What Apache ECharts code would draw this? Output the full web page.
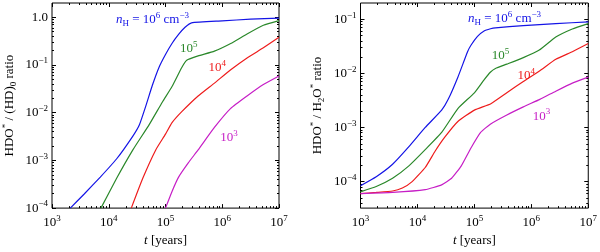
<!DOCTYPE html>
<html><head><meta charset="utf-8">
<script src="https://cdn.jsdelivr.net/npm/echarts@6/dist/echarts.min.js"></script>
<style>html,body{margin:0;padding:0;background:#fff}#c{width:600px;height:252px}</style>
</head><body><div id="c"></div>
<script>
// ---------- data (t in years, ratio values) ----------
const xTickValues = [1e3, 1e4, 1e5, 1e6, 1e7];
const leftYTickValues = [1e-4, 1e-3, 1e-2, 1e-1, 1];
const rightYTickValues = [1e-4, 1e-3, 1e-2, 1e-1];
const densityLabels = ['6', '5', '4', '3'];

// Left panel: HDO* / (HD)_0
const left_n1e6 = [[2100,1.0e-4],[3660,1.95e-4],[7100,4.47e-4],[13700,1.07e-3],[26600,3.24e-3],[34700,5.6e-3],[45200,0.0141],[58900,0.038],[76700,0.089],[1.0e5,0.166],[1.3e5,0.282],[1.7e5,0.437],[2.21e5,0.617],[2.88e5,0.767],[1e6,0.841],[3.16e6,0.914],[1e7,0.966]];
const left_n1e5 = [[7280,1e-4],[13700,4.17e-4],[26600,1.66e-3],[51600,5.62e-3],[87700,0.0166],[1.303e5,0.0355],[1.936e5,0.089],[2.366e5,0.126],[3.758e5,0.155],[7.278e5,0.195],[1.41e6,0.282],[2.735e6,0.447],[5.3e6,0.681],[1e7,0.85]];
const left_n1e4 = [[24950,1e-4],[39600,4.17e-4],[67300,1.66e-3],[1e5,3.55e-3],[1.303e5,6.17e-3],[1.936e5,0.0105],[3.758e5,0.0224],[7.278e5,0.0417],[1.41e6,0.0794],[2.735e6,0.141],[5.3e6,0.229],[1e7,0.38]];
const left_n1e3 = [[1e5,1e-4],[1.303e5,2.24e-4],[1.7e5,4.47e-4],[2.52e5,8.9e-4],[3.758e5,1.66e-3],[7.278e5,4.9e-3],[1.41e6,0.0123],[2.735e6,0.0224],[5.3e6,0.0389],[1e7,0.0589]];

// Right panel: HDO* / H2O*
const right_n1e6 = [[1000,8.4e-5],[1890,1.23e-4],[3660,2.09e-4],[7080,4.42e-4],[13700,1.0e-3],[26600,2.09e-3],[34700,3.31e-3],[51300,8.5e-3],[75900,0.0251],[87100,0.0331],[1.135e5,0.0483],[1.48e5,0.0607],[1.92e5,0.0667],[2.344e5,0.0695],[7.24e5,0.0759],[2.69e6,0.0832],[1e7,0.0891]];
const right_n1e5 = [[1000,6.46e-5],[1890,8.1e-5],[3660,1.15e-4],[7080,1.95e-4],[13700,3.89e-4],[26600,8.1e-4],[51300,2.24e-3],[1e5,4.37e-3],[1.48e5,7.6e-3],[1.905e5,0.0105],[2.344e5,0.0123],[3.715e5,0.0148],[7.24e5,0.0195],[1.38e6,0.0269],[2.69e6,0.0468],[5.25e6,0.0661],[1e7,0.0832]];
const right_n1e4 = [[1000,6.0e-5],[1890,6.3e-5],[3660,6.7e-5],[5430,7.6e-5],[8070,1.0e-4],[13700,1.82e-4],[20400,3.63e-4],[30200,6.6e-4],[51300,1.29e-3],[1e5,2.09e-3],[1.95e5,2.75e-3],[3.715e5,4.37e-3],[7.24e5,7.1e-3],[1.41e6,0.0112],[2.69e6,0.0182],[5.25e6,0.0251],[1e7,0.0355]];
const right_n1e3 = [[1000,6.0e-5],[3660,6.3e-5],[13700,7.1e-5],[26600,8.7e-5],[39800,1.15e-4],[58900,1.95e-4],[87100,4.17e-4],[1.288e5,8.1e-4],[1.905e5,1.15e-3],[3.715e5,1.7e-3],[7.24e5,2.4e-3],[1.41e6,3.31e-3],[2.69e6,4.68e-3],[5.25e6,6.6e-3],[1e7,8.5e-3]];

// ---------- styling / layout ----------
const FONT = 'Liberation Serif';
const MINUS = '\u2212';
const COLORS = ['#1414e6', '#2a882a', '#ee1c1c', '#c61ec6'];
const L = Math.log10;

// annotation anchors (t, value) for each density label
const leftAnno = [[10**4.77, 10**-0.05], [10**5.41, 10**-0.66], [10**5.91, 10**-1.06], [10**6.12, 10**-2.52]];
const rightAnno = [[10**5.53, 10**-0.98], [10**5.46, 10**-1.67], [10**5.91, 10**-2.05], [10**6.18, 10**-2.79]];

function rich(color) {
  return {
    r: {fontFamily: FONT, fontSize: 13, color, lineHeight: 17},
    i: {fontFamily: FONT, fontSize: 13, fontStyle: 'italic', color, lineHeight: 17},
    sup: {fontFamily: FONT, fontSize: 9, color, lineHeight: 9, verticalAlign: 'top'},
    sub: {fontFamily: FONT, fontSize: 9, color, lineHeight: 9, verticalAlign: 'bottom'}
  };
}
function powLabel(lv, oneAsDecimal) {
  const n = Math.round(lv);
  if (Math.abs(lv - n) > 1e-6) return '';
  if (n === 0 && oneAsDecimal) return '{r|1.0}';
  return '{r|10}{sup|' + String(n).replace('-', MINUS) + '}';
}
function minorTicks(lo, hi) {
  const out = [];
  for (let n = Math.floor(lo); n < hi; n++)
    for (let k = 2; k <= 9; k++) {
      const v = n + L(k);
      if (v > lo + 1e-6 && v < hi - 1e-6) out.push(v);
    }
  return out;
}
const tickLine = {color: '#000', width: 1};
function axisSet(dim, gridIndex, min, max, majorVals, fmt, name, nameGap) {
  const pos = dim === 'x' ? ['bottom', 'top'] : ['left', 'right'];
  const majors = majorVals.map(L);
  const minors = minorTicks(min, max);
  const base = {type: 'value', gridIndex, min, max, splitLine: {show: false}, axisLine: {show: false, onZero: false}};
  const main = Object.assign({}, base, {
    position: pos[0],
    axisTick: {show: true, inside: true, length: 4, customValues: majors, lineStyle: tickLine},
    axisLabel: {show: true, customValues: majors, formatter: fmt, rich: rich('#000'), margin: dim === 'x' ? 6 : 4},
    name, nameLocation: 'middle', nameGap,
    nameTextStyle: {rich: rich('#000')}
  });
  return [
    main,
    Object.assign({}, base, {position: pos[0], axisLabel: {show: false}, axisTick: {show: true, inside: true, length: 2, customValues: minors, lineStyle: tickLine}}),
    Object.assign({}, base, {position: pos[1], axisLabel: {show: false}, axisTick: {show: true, inside: true, length: 4, customValues: majors, lineStyle: tickLine}}),
    Object.assign({}, base, {position: pos[1], axisLabel: {show: false}, axisTick: {show: true, inside: true, length: 2, customValues: minors, lineStyle: tickLine}})
  ];
}

const xFmt = v => powLabel(v, false);
const xAxes = [].concat(
  axisSet('x', 0, 3, 7, xTickValues, xFmt, '{i|t}{r| [years]}', 20),
  axisSet('x', 1, 3, 7, xTickValues, xFmt, '{i|t}{r| [years]}', 20)
);
const yAxes = [].concat(
  axisSet('y', 0, -4, 0.3, leftYTickValues, v => powLabel(v, true), '{r|HDO}{sup|*}{r| / (HD)}{sub|0}{r| ratio}', 34),
  axisSet('y', 1, -4.49, -0.7, rightYTickValues, v => powLabel(v, false), '{r|HDO}{sup|*}{r| / H}{sub|2}{r|O}{sup|*}{r| ratio}', 34)
);

function mkSeries(data, idx, grid, anno) {
  const color = COLORS[idx];
  const txt = idx === 0
    ? '{i|n}{sub|H}{r| = 10}{sup|6}{r| cm}{sup|' + MINUS + '3}'
    : '{r|10}{sup|' + densityLabels[idx] + '}';
  return {
    type: 'line', xAxisIndex: grid * 4, yAxisIndex: grid * 4,
    data: data.map(p => [L(p[0]), L(p[1])]),
    showSymbol: false, smooth: 0.15,
    lineStyle: {color, width: 1.2}, itemStyle: {color},
    silent: true,
    markPoint: {
      symbol: 'rect', symbolSize: 0, silent: true, animation: false,
      label: {show: true, position: 'inside', formatter: txt, rich: rich(color)},
      data: [{coord: [L(anno[0]), L(anno[1])]}]
    }
  };
}

const series = [
  mkSeries(left_n1e6, 0, 0, leftAnno[0]), mkSeries(left_n1e5, 1, 0, leftAnno[1]),
  mkSeries(left_n1e4, 2, 0, leftAnno[2]), mkSeries(left_n1e3, 3, 0, leftAnno[3]),
  mkSeries(right_n1e6, 0, 1, rightAnno[0]), mkSeries(right_n1e5, 1, 1, rightAnno[1]),
  mkSeries(right_n1e4, 2, 1, rightAnno[2]), mkSeries(right_n1e3, 3, 1, rightAnno[3])
];

const chart = echarts.init(document.getElementById('c'), null, {renderer: 'canvas'});
chart.setOption({
  animation: false,
  backgroundColor: '#fff',
  textStyle: {fontFamily: FONT},
  grid: [
    {left: 47.5, top: 3, width: 231.5, height: 215, show: true, borderColor: '#000', borderWidth: 1, backgroundColor: 'transparent'},
    {left: 360.5, top: 3, width: 232.5, height: 215.5, show: true, borderColor: '#000', borderWidth: 1, backgroundColor: 'transparent'}
  ],
  xAxis: xAxes,
  yAxis: yAxes,
  series
});
</script></body></html>
